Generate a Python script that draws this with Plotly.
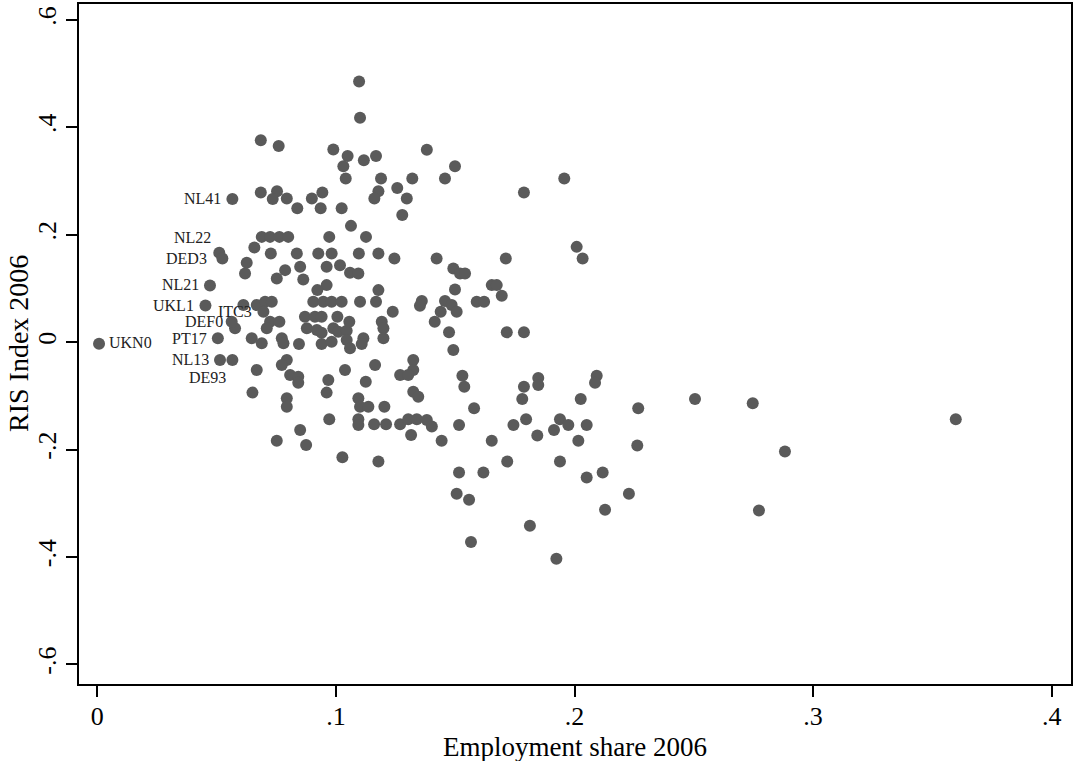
import plotly.graph_objects as go

# Labeled regions
region = ["UKN0", "NL41", "NL22", "DED3", "NL21", "UKL1", "ITC3", "DEF0", "PT17", "NL13", "DE93"]
region_emp = [0.0007, 0.0566, 0.0511, 0.0524, 0.0472, 0.0453, 0.0612, 0.0563, 0.0505, 0.0514, 0.0566]
region_ris = [-0.003, 0.2665, 0.1662, 0.1558, 0.1056, 0.068, 0.069, 0.0379, 0.0071, -0.0333, -0.0333]

# Other regions (employment share 2006, RIS index 2006)
emp_share = [
    0.1097, 0.1101, 0.0989, 0.1381, 0.0685, 0.076, 0.1049, 0.1168, 0.1117, 0.1031,
    0.1041, 0.1189, 0.132, 0.0685, 0.0753, 0.0735, 0.0794, 0.0838, 0.0899, 0.0943,
    0.0936, 0.1024, 0.1178, 0.1161, 0.1257, 0.1297, 0.1278, 0.1063, 0.0972, 0.1126,
    0.0689, 0.0724, 0.0763, 0.08, 0.0658, 0.0727, 0.0836, 0.0926, 0.0982, 0.1096,
    0.1178, 0.1245, 0.0626, 0.085, 0.0787, 0.0619, 0.0752, 0.0863, 0.0961, 0.1017,
    0.1059, 0.1094, 0.0961, 0.0922, 0.1178, 0.0668, 0.0703, 0.0731, 0.0696, 0.0905,
    0.0947, 0.0982, 0.1024, 0.1101, 0.1168, 0.1238, 0.0577, 0.0724, 0.0763, 0.071,
    0.087, 0.0912, 0.094, 0.1006, 0.0878, 0.092, 0.094, 0.0989, 0.101, 0.1045,
    0.1056, 0.1192, 0.1199, 0.0647, 0.0689, 0.0773, 0.078, 0.0845, 0.094, 0.0982,
    0.1045, 0.1059, 0.1115, 0.1108, 0.1199, 0.0668, 0.0794, 0.0773, 0.0808, 0.0842,
    0.0842, 0.1038, 0.1164, 0.1324, 0.1324, 0.1269, 0.1303, 0.0968, 0.0961, 0.1125,
    0.065, 0.0794, 0.0794, 0.1324, 0.1345, 0.1094, 0.1101, 0.1136, 0.1203, 0.0972,
    0.1094, 0.1094, 0.116, 0.121, 0.1269, 0.1303, 0.1339, 0.1315, 0.085, 0.0752,
    0.0875, 0.1027, 0.1178, 0.1499, 0.1457, 0.1957, 0.1788, 0.2009, 0.2034, 0.1422,
    0.1712, 0.1492, 0.152, 0.1541, 0.1499, 0.1653, 0.1674, 0.1695, 0.136, 0.1352,
    0.1457, 0.1485, 0.1506, 0.1439, 0.159, 0.1621, 0.1414, 0.1474, 0.1716, 0.1788,
    0.1492, 0.153, 0.1538, 0.1579, 0.1788, 0.1781, 0.1848, 0.1848, 0.2093, 0.2086,
    0.2026, 0.2267, 0.1381, 0.1402, 0.1443, 0.1516, 0.1653, 0.1744, 0.1797, 0.1844,
    0.1939, 0.1974, 0.1914, 0.2051, 0.2016, 0.2263, 0.1718, 0.1939, 0.1516, 0.1618,
    0.2051, 0.2118, 0.1506, 0.1558, 0.2228, 0.2128, 0.1813, 0.1566, 0.1924, 0.2505,
    0.2747, 0.2882, 0.2773, 0.3598,
]
ris_index = [
    0.4853, 0.4178, 0.3584, 0.358, 0.3757, 0.365, 0.3465, 0.3465, 0.3385, 0.3273,
    0.3045, 0.3045, 0.3045, 0.2784, 0.2809, 0.2665, 0.2673, 0.2493, 0.2673, 0.2784,
    0.2493, 0.2493, 0.2809, 0.2673, 0.287, 0.2673, 0.2368, 0.2164, 0.1959, 0.1959,
    0.1959, 0.1959, 0.1959, 0.1959, 0.1762, 0.165, 0.165, 0.165, 0.165, 0.165,
    0.165, 0.1558, 0.1476, 0.1401, 0.134, 0.1279, 0.1186, 0.1167, 0.1401, 0.1433,
    0.129, 0.1279, 0.1061, 0.0968, 0.0968, 0.069, 0.0751, 0.0751, 0.0565, 0.0751,
    0.0751, 0.0751, 0.0751, 0.0751, 0.0751, 0.0565, 0.0257, 0.0379, 0.0379, 0.0257,
    0.0472, 0.0472, 0.0472, 0.0472, 0.0257, 0.0225, 0.0175, 0.0257, 0.0193, 0.0212,
    0.0379, 0.0379, 0.0257, 0.0071, -0.0022, 0.0071, -0.0022, -0.0035, -0.0035, 0.0007,
    0.0039, -0.0115, 0.0071, -0.0035, 0.0071, -0.0519, -0.0333, -0.0426, -0.0612, -0.0643,
    -0.0755, -0.0519, -0.0426, -0.0333, -0.0519, -0.0612, -0.0612, -0.0704, -0.094, -0.0736,
    -0.094, -0.1045, -0.1201, -0.0922, -0.1015, -0.1045, -0.1201, -0.1201, -0.1201, -0.1435,
    -0.1435, -0.1541, -0.1528, -0.1528, -0.1528, -0.1435, -0.1435, -0.1727, -0.1634, -0.1838,
    -0.1913, -0.2141, -0.2223, 0.3273, 0.3045, 0.3045, 0.2784, 0.1773, 0.1558, 0.1558,
    0.1558, 0.1372, 0.1279, 0.1279, 0.0981, 0.1061, 0.1061, 0.0862, 0.0764, 0.0677,
    0.0764, 0.069, 0.0565, 0.0565, 0.0751, 0.0751, 0.0379, 0.0182, 0.0182, 0.0182,
    -0.0147, -0.0625, -0.0829, -0.123, -0.0829, -0.1058, -0.0667, -0.0797, -0.0625, -0.0755,
    -0.1058, -0.123, -0.1448, -0.1572, -0.1838, -0.1541, -0.1838, -0.1541, -0.1435, -0.174,
    -0.1435, -0.1541, -0.1634, -0.1541, -0.1838, -0.1926, -0.2223, -0.2223, -0.2428, -0.2428,
    -0.252, -0.2428, -0.2823, -0.2935, -0.2823, -0.3121, -0.3418, -0.3721, -0.4032, -0.1058,
    -0.1138, -0.2037, -0.3134, -0.1435,
]

x_ticks = [0, 0.1, 0.2, 0.3, 0.4]
x_ticklabels = ["0", ".1", ".2", ".3", ".4"]
y_ticks = [-0.6, -0.4, -0.2, 0, 0.2, 0.4, 0.6]
y_ticklabels = ["-.6", "-.4", "-.2", "0", ".2", ".4", ".6"]
x_title = "Employment share 2006"
y_title = "RIS Index 2006"

# label placement (style): anchor, xshift, yshift in px
label_style = {
    "UKN0": ("left", 8, 1), "NL41": ("right", -9, 0), "NL22": ("right", -6, 15),
    "DED3": ("right", -13, 0), "NL21": ("right", -9, 1), "UKL1": ("right", -9, 0),
    "ITC3": ("center", -8, -6), "DEF0": ("right", -7, 0), "PT17": ("right", -9, 0),
    "NL13": ("right", -9, 1), "DE93": ("right", -4, -17),
}

SERIF = "Liberation Serif, Times New Roman, serif"
MARKER = "#5a5a5a"

fig = go.Figure()
fig.add_trace(go.Scatter(
    x=emp_share + region_emp, y=ris_index + region_ris, mode="markers",
    marker=dict(size=12, color=MARKER, line=dict(width=0)),
    showlegend=False, hoverinfo="x+y",
))

for name, ex, ry in zip(region, region_emp, region_ris):
    anchor, dx, dy = label_style[name]
    fig.add_annotation(x=ex, y=ry, text=name, showarrow=False,
                       xanchor=anchor, yanchor="middle", xshift=dx, yshift=dy,
                       font=dict(family=SERIF, size=16, color="#222222"))

# axis titles
fig.add_annotation(xref="paper", yref="paper", x=0.5, y=0, text=x_title, showarrow=False,
                   xanchor="center", yanchor="middle", yshift=-63,
                   font=dict(family=SERIF, size=27, color="black"))
fig.add_annotation(xref="paper", yref="paper", x=0, y=0.5, text=y_title, showarrow=False,
                   xanchor="center", yanchor="middle", xshift=-61, textangle=-90,
                   font=dict(family=SERIF, size=28, color="black"))

fig.update_layout(
    width=1073, height=761,
    margin=dict(l=79, r=2, t=4, b=77),
    paper_bgcolor="white", plot_bgcolor="white",
    font=dict(family=SERIF, color="black"),
    xaxis=dict(
        range=[-0.0077, 0.4081], tickvals=x_ticks, ticktext=x_ticklabels,
        ticks="outside", ticklen=11, tickwidth=1.5, tickcolor="black",
        ticklabelstandoff=-3,
        tickfont=dict(family=SERIF, size=26, color="black"),
        showline=True, mirror=True, linecolor="black", linewidth=2,
        showgrid=False, zeroline=False, automargin=False,
    ),
    yaxis=dict(
        range=[-0.6364, 0.6294], tickvals=y_ticks, ticktext=y_ticklabels,
        ticks="outside", ticklen=11, tickwidth=1.5, tickcolor="black", tickangle=-90,
        tickfont=dict(family=SERIF, size=26, color="black"),
        showline=True, mirror=True, linecolor="black", linewidth=2,
        showgrid=False, zeroline=False, automargin=False,
    ),
)

fig.write_html(
    "out.html",
    config={"displayModeBar": False},
    post_script="document.body.style.margin='0px';document.body.style.overflow='hidden';",
)
